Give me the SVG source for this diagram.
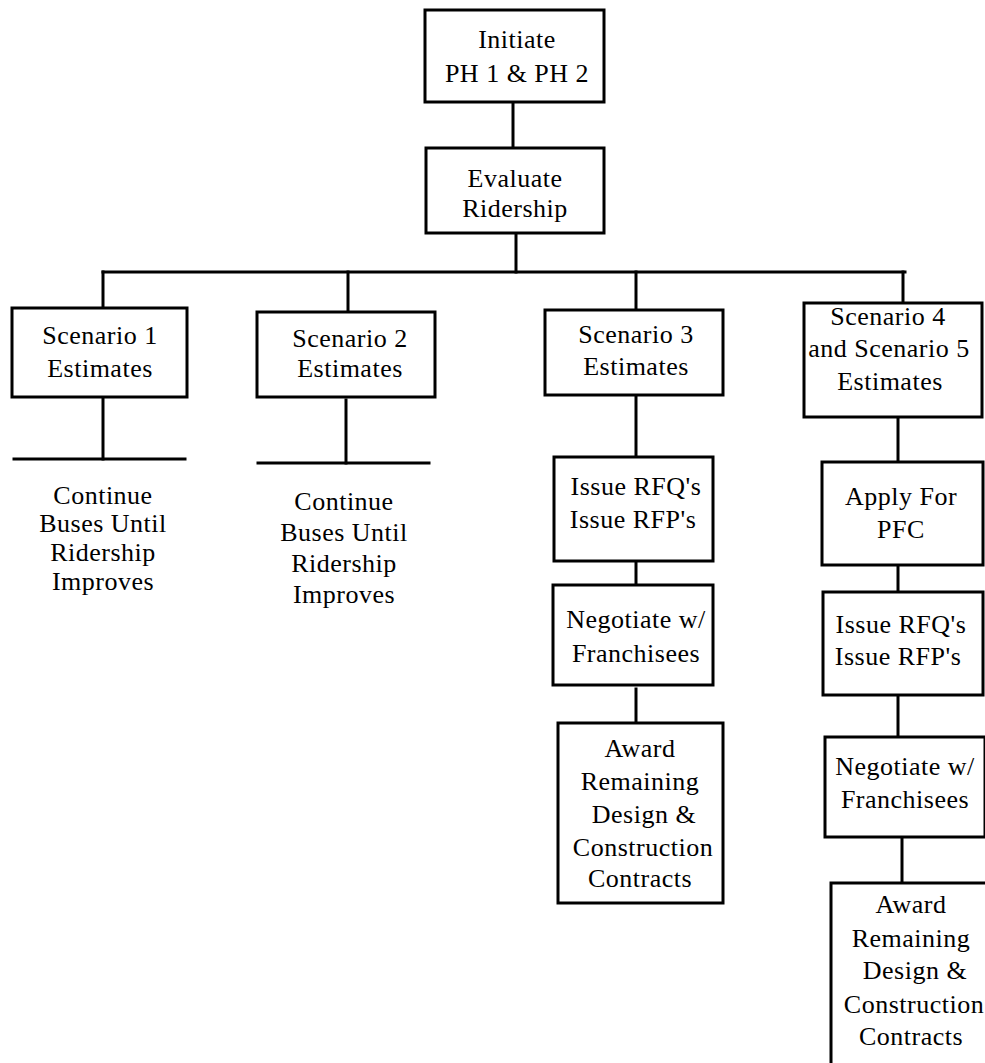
<svg xmlns="http://www.w3.org/2000/svg" width="985" height="1063" viewBox="0 0 985 1063">
  <style>
    .box { fill: #ffffff; stroke: #000000; stroke-width: 3; }
    .wire { fill: none; stroke: #000000; stroke-width: 3; stroke-linecap: square; }
    text { font-family: "Liberation Serif", "Times New Roman", serif; font-size: 26px; letter-spacing: 0.5px; fill: #000000; text-anchor: middle; }
  </style>
  <rect width="985" height="1063" fill="#ffffff"/>

  <!-- connectors -->
  <g id="connectors" class="wire">
    <line x1="513" y1="102" x2="513" y2="148"/>
    <line x1="516" y1="233" x2="516" y2="272"/>
    <line x1="103" y1="272" x2="905" y2="272"/>
    <line x1="103" y1="272" x2="103" y2="308"/>
    <line x1="348" y1="272" x2="348" y2="312"/>
    <line x1="636" y1="272" x2="636" y2="310"/>
    <line x1="903" y1="272" x2="903" y2="303"/>
    <!-- scenario 1 / 2 terminal bars -->
    <line x1="103" y1="397" x2="103" y2="459"/>
    <line x1="14" y1="459" x2="185" y2="459"/>
    <line x1="346" y1="400" x2="346" y2="463"/>
    <line x1="258" y1="463" x2="429" y2="463"/>
    <!-- scenario 3 chain -->
    <line x1="636" y1="395" x2="636" y2="457"/>
    <line x1="636" y1="561" x2="636" y2="585"/>
    <line x1="636" y1="689" x2="636" y2="723"/>
    <!-- scenario 4/5 chain -->
    <line x1="898" y1="417" x2="898" y2="462"/>
    <line x1="898" y1="565" x2="898" y2="592"/>
    <line x1="898" y1="695" x2="898" y2="737"/>
    <line x1="902" y1="837" x2="902" y2="883"/>
  </g>

  <g id="initiate">
    <rect class="box" x="425" y="10" width="179" height="92"/>
    <text x="517" y="48">Initiate</text>
    <text x="517" y="82">PH 1 &amp; PH 2</text>
  </g>

  <g id="evaluate">
    <rect class="box" x="426" y="148" width="178" height="85"/>
    <text x="515" y="187">Evaluate</text>
    <text x="515" y="217">Ridership</text>
  </g>

  <g id="scenario1">
    <rect class="box" x="12" y="308" width="175" height="89"/>
    <text x="100" y="344">Scenario 1</text>
    <text x="100" y="377">Estimates</text>
  </g>

  <g id="scenario1-outcome">
    <text x="103" y="504">Continue</text>
    <text x="103" y="532">Buses Until</text>
    <text x="103" y="561">Ridership</text>
    <text x="103" y="590">Improves</text>
  </g>

  <g id="scenario2">
    <rect class="box" x="257" y="312" width="178" height="85"/>
    <text x="350" y="347">Scenario 2</text>
    <text x="350" y="377">Estimates</text>
  </g>

  <g id="scenario2-outcome">
    <text x="344" y="510">Continue</text>
    <text x="344" y="541">Buses Until</text>
    <text x="344" y="572">Ridership</text>
    <text x="344" y="603">Improves</text>
  </g>

  <g id="scenario3">
    <rect class="box" x="545" y="310" width="178" height="85"/>
    <text x="636" y="343">Scenario 3</text>
    <text x="636" y="375">Estimates</text>
  </g>

  <g id="s3-issue">
    <rect class="box" x="554" y="457" width="159" height="104"/>
    <text x="636" y="495">Issue RFQ's</text>
    <text x="633" y="528">Issue RFP's</text>
  </g>

  <g id="s3-negotiate">
    <rect class="box" x="553" y="585" width="160" height="100"/>
    <text x="636" y="628">Negotiate w/</text>
    <text x="636" y="662">Franchisees</text>
  </g>

  <g id="s3-award">
    <rect class="box" x="558" y="723" width="165" height="180"/>
    <text x="640" y="757">Award</text>
    <text x="640" y="790">Remaining</text>
    <text x="644" y="823">Design &amp;</text>
    <text x="643" y="856">Construction</text>
    <text x="640" y="887">Contracts</text>
  </g>

  <g id="scenario45">
    <rect class="box" x="804" y="303" width="178" height="114"/>
    <text x="888" y="325">Scenario 4</text>
    <text x="889" y="357">and Scenario 5</text>
    <text x="890" y="390">Estimates</text>
  </g>

  <g id="s45-apply">
    <rect class="box" x="822" y="462" width="161" height="103"/>
    <text x="901" y="505">Apply For</text>
    <text x="901" y="538">PFC</text>
  </g>

  <g id="s45-issue">
    <rect class="box" x="823" y="592" width="160" height="103"/>
    <text x="901" y="633">Issue RFQ's</text>
    <text x="898" y="665">Issue RFP's</text>
  </g>

  <g id="s45-negotiate">
    <rect class="box" x="825" y="737" width="160" height="100"/>
    <text x="905" y="775">Negotiate w/</text>
    <text x="905" y="808">Franchisees</text>
  </g>

  <g id="s45-award">
    <rect class="box" x="831" y="883" width="165" height="200"/>
    <text x="911" y="913">Award</text>
    <text x="911" y="947">Remaining</text>
    <text x="915" y="979">Design &amp;</text>
    <text x="914" y="1013">Construction</text>
    <text x="911" y="1045">Contracts</text>
  </g>
</svg>
